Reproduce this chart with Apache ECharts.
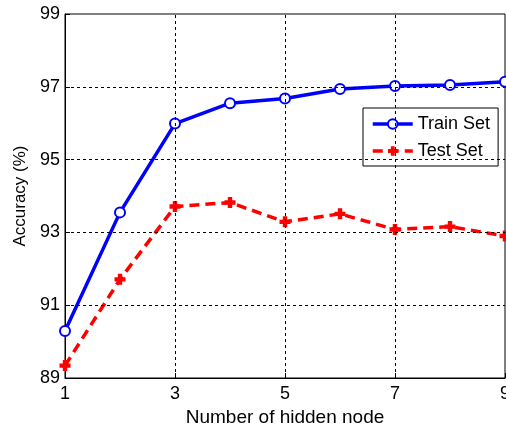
<!DOCTYPE html>
<html>
<head>
<meta charset="utf-8">
<script src="https://cdn.jsdelivr.net/npm/echarts@6/dist/echarts.min.js"></script>
<style>
  html, body { margin: 0; padding: 0; background: #fff; }
  #chart { width: 506px; height: 428px; }
</style>
</head>
<body>
<div id="chart"></div>
<script>
// 数据
const hiddenNodes = [1, 2, 3, 4, 5, 6, 7, 8, 9];
const trainSet = [90.29, 93.55, 95.99, 96.55, 96.68, 96.94, 97.02, 97.05, 97.14];
const testSet = [89.34, 91.71, 93.71, 93.82, 93.29, 93.51, 93.08, 93.16, 92.90];
const xTicks = [1, 3, 5, 7, 9];
const yTicks = [89, 91, 93, 95, 97, 99];
const xGrid = [3, 5, 7];
const yGrid = [91, 93, 95, 97];

const chart = echarts.init(document.getElementById('chart'));

const font = 'Arial, "Liberation Sans", sans-serif';
const plusPath = 'path://M3,0 H7 V3 H10 V7 H7 V10 H3 V7 H0 V3 H3 Z';

// 网格虚线
const gridLines = [
  ...xGrid.map(v => ({ xAxis: v })),
  ...yGrid.map(v => ({ yAxis: v }))
];

const option = {
  backgroundColor: '#fff',
  animation: false,
  grid: {
    left: 65,
    right: 1,
    top: 14,
    bottom: 50,
    outerBoundsMode: 'none',
    containLabel: false,
    show: true,
    borderColor: '#000',
    borderWidth: 1,
    backgroundColor: '#fff'
  },
  legend: {
    data: [
      { name: 'Train Set', lineStyle: { width: 3.5 } },
      { name: 'Test Set', lineStyle: { width: 3.5 } }
    ],
    orient: 'vertical',
    left: 363,
    top: 108,
    padding: [7, 8, 6, 8],
    itemWidth: 40,
    itemHeight: 12,
    itemGap: 9,
    backgroundColor: '#fff',
    borderColor: '#000',
    borderWidth: 1,
    borderRadius: 0,
    textStyle: {
      color: '#000',
      fontSize: 18,
      fontFamily: font
    }
  },
  xAxis: {
    type: 'value',
    min: 1,
    max: 9,
    name: 'Number of hidden node',
    nameLocation: 'middle',
    nameGap: 27,
    nameTextStyle: { color: '#000', fontSize: 19, fontFamily: font },
    axisLine: { show: true, lineStyle: { color: '#000', width: 1 } },
    axisTick: {
      show: true,
      inside: true,
      length: 5,
      customValues: xTicks,
      lineStyle: { color: '#000' }
    },
    axisLabel: {
      color: '#000',
      fontSize: 18,
      fontFamily: font,
      margin: 7,
      customValues: xTicks
    },
    splitLine: { show: false }
  },
  yAxis: {
    type: 'value',
    min: 89,
    max: 99,
    name: 'Accuracy (%)',
    nameLocation: 'middle',
    nameGap: 36,
    nameTextStyle: { color: '#000', fontSize: 17, fontFamily: font },
    axisLine: { show: true, lineStyle: { color: '#000', width: 1 } },
    axisTick: {
      show: true,
      inside: true,
      length: 5,
      customValues: yTicks,
      lineStyle: { color: '#000' }
    },
    axisLabel: {
      color: '#000',
      fontSize: 18,
      fontFamily: font,
      margin: 5,
      customValues: yTicks
    },
    splitLine: { show: false }
  },
  series: [
    {
      name: 'grid',
      type: 'line',
      data: [],
      z: 1,
      silent: true,
      markLine: {
        silent: true,
        symbol: ['none', 'none'],
        label: { show: false },
        lineStyle: { color: '#000', width: 1, type: [3, 3] },
        data: gridLines
      }
    },
    {
      name: 'Train Set',
      type: 'line',
      z: 3,
      data: hiddenNodes.map((x, i) => [x, trainSet[i]]),
      symbol: 'emptyCircle',
      symbolSize: 10,
      lineStyle: { color: '#0000ff', width: 3.5 },
      itemStyle: { color: '#0000ff', borderColor: '#0000ff', borderWidth: 3 }
    },
    {
      name: 'Test Set',
      type: 'line',
      z: 2,
      data: hiddenNodes.map((x, i) => [x, testSet[i]]),
      symbol: plusPath,
      symbolSize: 11,
      lineStyle: { color: '#ff0000', width: 3.5, type: [10, 6] },
      itemStyle: { color: '#ff0000' }
    }
  ]
};

chart.setOption(option);
</script>
</body>
</html>
